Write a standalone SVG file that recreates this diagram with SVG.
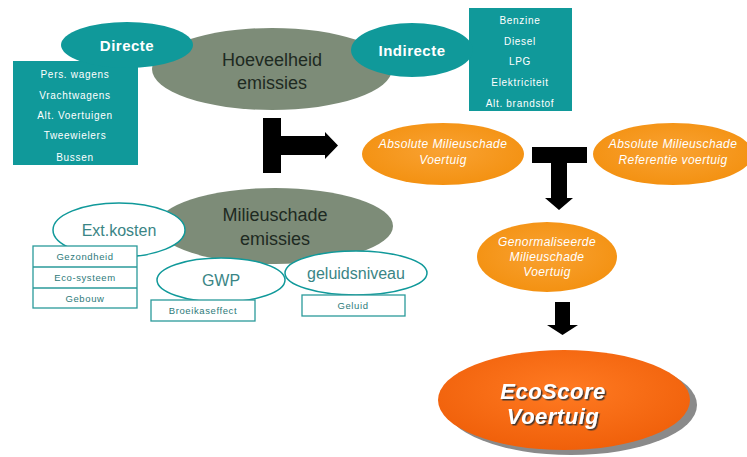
<svg xmlns="http://www.w3.org/2000/svg" width="747" height="457" viewBox="0 0 747 457">
<defs>
<style>
text{font-family:"Liberation Sans",Arial,sans-serif;text-anchor:middle}
.teal{fill:#10999a}
.grey{fill:#7d8c78}
.big{font-size:18px;fill:#1e2a22}
.hd{font-size:15px;font-weight:bold;fill:#fff;letter-spacing:0.5px}
.lst{font-size:10px;fill:#fff;letter-spacing:0.7px}
.wel{fill:#fff;stroke:#10999a;stroke-width:1.5}
.wtx{font-size:16px;fill:#3a8585}
.box{fill:#fff;stroke:#2a9a9a;stroke-width:1.3}
.btx{font-size:9.5px;fill:#2e7a7a;letter-spacing:0.6px}
.or{fill:url(#og)}
.otx{font-size:12px;font-style:italic;fill:#fff;letter-spacing:0.4px}
.eco{font-size:22px;font-weight:bold;font-style:italic;fill:#fff;letter-spacing:0.5px}
</style>
<radialGradient id="og" cx="0.5" cy="0.45" r="0.6">
<stop offset="0" stop-color="#f9a232"/>
<stop offset="1" stop-color="#f3900f"/>
</radialGradient>
<radialGradient id="eg" cx="0.5" cy="0.4" r="0.6">
<stop offset="0" stop-color="#ff7a22"/>
<stop offset="1" stop-color="#f0600a"/>
</radialGradient>
<filter id="ts" x="-10%" y="-10%" width="130%" height="140%">
<feDropShadow dx="1.5" dy="1.5" stdDeviation="0.4" flood-color="#333" flood-opacity="0.9"/>
</filter>
</defs>
<rect width="747" height="457" fill="#fff"/>

<g id="hoeveelheid">
<ellipse class="grey" cx="272" cy="69" rx="120" ry="41"/>
<text class="big" x="272" y="66">Hoeveelheid</text>
<text class="big" x="272" y="89">emissies</text>
</g>

<g id="directe-lijst">
<rect class="teal" x="13" y="61" width="125" height="104"/>
<text class="lst" x="75" y="78">Pers. wagens</text>
<text class="lst" x="75" y="99">Vrachtwagens</text>
<text class="lst" x="75" y="119">Alt. Voertuigen</text>
<text class="lst" x="75" y="139">Tweewielers</text>
<text class="lst" x="75" y="161">Bussen</text>
</g>
<g id="directe">
<ellipse class="teal" cx="127" cy="45" rx="66" ry="23"/>
<text class="hd" x="127" y="51">Directe</text>
</g>

<g id="indirecte-lijst">
<rect class="teal" x="469" y="8" width="103" height="103"/>
<text class="lst" x="520" y="24">Benzine</text>
<text class="lst" x="520" y="45">Diesel</text>
<text class="lst" x="520" y="65">LPG</text>
<text class="lst" x="520" y="86">Elektriciteit</text>
<text class="lst" x="520" y="107">Alt. brandstof</text>
</g>
<g id="indirecte">
<ellipse class="teal" cx="412" cy="50" rx="61" ry="27"/>
<text class="hd" x="412" y="56">Indirecte</text>
</g>

<g id="milieuschade">
<ellipse class="grey" cx="275" cy="226" rx="118" ry="38"/>
<text class="big" x="275" y="221">Milieuschade</text>
<text class="big" x="275" y="245">emissies</text>
</g>

<g id="extkosten">
<ellipse class="wel" cx="119" cy="230" rx="66" ry="27"/>
<text class="wtx" x="119" y="236">Ext.kosten</text>
<rect class="box" x="33" y="246" width="104" height="62"/>
<line x1="33" y1="267" x2="137" y2="267" stroke="#2a9a9a" stroke-width="1.3"/>
<line x1="33" y1="288" x2="137" y2="288" stroke="#2a9a9a" stroke-width="1.3"/>
<text class="btx" x="85" y="260">Gezondheid</text>
<text class="btx" x="85" y="281">Eco-systeem</text>
<text class="btx" x="85" y="302">Gebouw</text>
</g>

<g id="gwp">
<ellipse class="wel" cx="221" cy="280" rx="64" ry="22"/>
<text class="wtx" x="221" y="286">GWP</text>
<rect class="box" x="151" y="300" width="104" height="21"/>
<text class="btx" x="203" y="314">Broeikaseffect</text>
</g>

<g id="geluidsniveau">
<ellipse class="wel" cx="356" cy="273" rx="71" ry="22"/>
<text class="wtx" x="356" y="279">geluidsniveau</text>
<rect class="box" x="302" y="295" width="103" height="21"/>
<text class="btx" x="353" y="309">Geluid</text>
</g>

<g id="abs-voertuig">
<ellipse class="or" cx="443" cy="154" rx="81" ry="31"/>
<text class="otx" x="443" y="148">Absolute Milieuschade</text>
<text class="otx" x="443" y="164">Voertuig</text>
</g>

<g id="abs-referentie">
<ellipse class="or" cx="673" cy="154" rx="80" ry="31"/>
<text class="otx" x="673" y="148">Absolute Milieuschade</text>
<text class="otx" x="673" y="164">Referentie voertuig</text>
</g>

<g id="genormaliseerde">
<ellipse class="or" cx="547" cy="257" rx="70" ry="35"/>
<text class="otx" x="547" y="246">Genormaliseerde</text>
<text class="otx" x="547" y="261">Milieuschade</text>
<text class="otx" x="547" y="276">Voertuig</text>
</g>

<g id="ecoscore">
<ellipse cx="571" cy="405" rx="126" ry="50" fill="#8a8a8a"/>
<ellipse cx="564" cy="400" rx="126" ry="50" fill="url(#eg)"/>
<text class="eco" x="553" y="399" filter="url(#ts)">EcoScore</text>
<text class="eco" x="553" y="424" filter="url(#ts)">Voertuig</text>
</g>

<g id="connectors" fill="#000">
<path d="M263,118 H281 V136 H325 V132 L338,145.5 L325,159 V155 H281 V173 H263 Z"/>
<path d="M532,147 H587 V163 H567 V198 H573 L559,210 L545,198 H551 V163 H532 Z"/>
<path d="M555,302 H570 V325 H578 L562.5,335 L547,325 H555 Z"/>
</g>
</svg>
